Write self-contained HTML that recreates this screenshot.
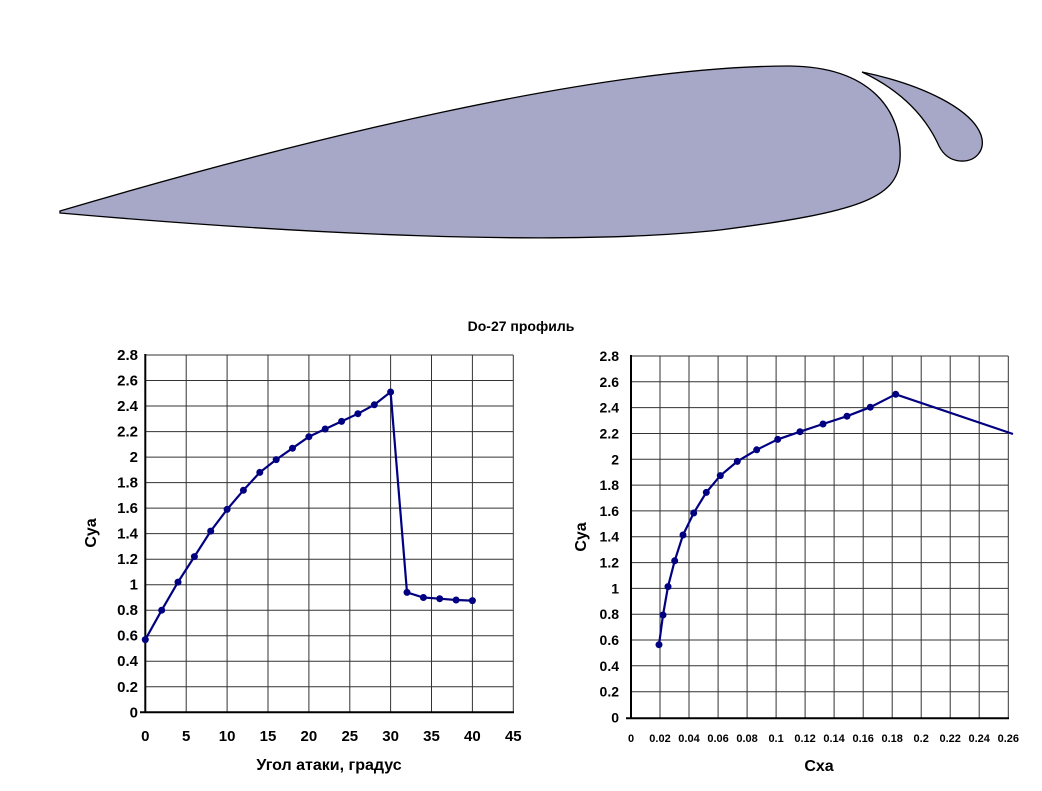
<!DOCTYPE html>
<html><head><meta charset="utf-8"><style>body{margin:0;background:#fff}svg{display:block}text{font-family:"Liberation Sans",Arial,sans-serif;font-weight:bold;fill:#000}</style></head><body>
<svg width="1042" height="791" viewBox="0 0 1042 791" xmlns="http://www.w3.org/2000/svg">
<path d="M60,211 C300,140 600,66 790,66 C870,67 903,110 900,160 C897,198 860,212 720,230 C560,247 300,234 60,213 Z" fill="#a7a7c8" stroke="#000" stroke-width="1.3"/>
<path d="M862,72 C925,85 972,110 981,135 C986,150 976,162 960,161 C948,160 942,152 939,146 C925,115 900,90 862,72 Z" fill="#a7a7c8" stroke="#000" stroke-width="1.3"/>
<text x="521" y="331" font-size="14" text-anchor="middle">Do-27 профиль</text>
<g id="L">
<g stroke="#333" stroke-width="1">
<line x1="145.3" y1="355" x2="513.3" y2="355"/><line x1="145.3" y1="380.5" x2="513.3" y2="380.5"/><line x1="145.3" y1="406" x2="513.3" y2="406"/><line x1="145.3" y1="431.6" x2="513.3" y2="431.6"/><line x1="145.3" y1="457.1" x2="513.3" y2="457.1"/><line x1="145.3" y1="482.6" x2="513.3" y2="482.6"/><line x1="145.3" y1="508.1" x2="513.3" y2="508.1"/><line x1="145.3" y1="533.6" x2="513.3" y2="533.6"/><line x1="145.3" y1="559.2" x2="513.3" y2="559.2"/><line x1="145.3" y1="584.7" x2="513.3" y2="584.7"/><line x1="145.3" y1="610.2" x2="513.3" y2="610.2"/><line x1="145.3" y1="635.7" x2="513.3" y2="635.7"/><line x1="145.3" y1="661.2" x2="513.3" y2="661.2"/><line x1="145.3" y1="686.8" x2="513.3" y2="686.8"/>
<line x1="186.2" y1="355" x2="186.2" y2="712"/><line x1="227.1" y1="355" x2="227.1" y2="712"/><line x1="268" y1="355" x2="268" y2="712"/><line x1="308.9" y1="355" x2="308.9" y2="712"/><line x1="349.8" y1="355" x2="349.8" y2="712"/><line x1="390.6" y1="355" x2="390.6" y2="712"/><line x1="431.5" y1="355" x2="431.5" y2="712"/><line x1="472.4" y1="355" x2="472.4" y2="712"/><line x1="513.3" y1="355" x2="513.3" y2="712"/>
</g>
<g stroke="#000" stroke-width="2"><line x1="145.3" y1="354" x2="145.3" y2="713"/><line x1="140" y1="712.3" x2="514" y2="712.3"/></g>
<g font-size="15" text-anchor="end">
<text x="138" y="360">2.8</text><text x="138" y="385.5">2.6</text><text x="138" y="411">2.4</text><text x="138" y="436.6">2.2</text><text x="138" y="462.1">2</text><text x="138" y="487.6">1.8</text><text x="138" y="513.1">1.6</text><text x="138" y="538.6">1.4</text><text x="138" y="564.2">1.2</text><text x="138" y="589.7">1</text><text x="138" y="615.2">0.8</text><text x="138" y="640.7">0.6</text><text x="138" y="666.2">0.4</text><text x="138" y="691.8">0.2</text><text x="138" y="717.3">0</text></g>
<g font-size="15" text-anchor="middle">
<text x="145.3" y="741">0</text><text x="186.2" y="741">5</text><text x="227.1" y="741">10</text><text x="268" y="741">15</text><text x="308.9" y="741">20</text><text x="349.8" y="741">25</text><text x="390.6" y="741">30</text><text x="431.5" y="741">35</text><text x="472.4" y="741">40</text><text x="513.3" y="741">45</text></g>
<text x="329" y="770" font-size="16" text-anchor="middle">Угол атаки, градус</text>
<text transform="translate(96,533) rotate(-90)" font-size="16" text-anchor="middle">Cya</text>
<polyline fill="none" stroke="#000080" stroke-width="2.2" points="145.3,639.6 161.7,610.2 178,582.1 194.4,556.6 210.7,531.1 227.1,509.4 243.4,490.3 259.8,472.4 276.2,459.6 292.5,448.2 308.9,436.7 325.2,429 341.6,421.4 357.9,413.7 374.3,404.8 390.6,392 407,592.4 423.4,597.5 439.7,598.7 456.1,600 472.4,600.6"/>
<g fill="#000080"><circle cx="145.3" cy="639.6" r="3.5"/><circle cx="161.7" cy="610.2" r="3.5"/><circle cx="178" cy="582.1" r="3.5"/><circle cx="194.4" cy="556.6" r="3.5"/><circle cx="210.7" cy="531.1" r="3.5"/><circle cx="227.1" cy="509.4" r="3.5"/><circle cx="243.4" cy="490.3" r="3.5"/><circle cx="259.8" cy="472.4" r="3.5"/><circle cx="276.2" cy="459.6" r="3.5"/><circle cx="292.5" cy="448.2" r="3.5"/><circle cx="308.9" cy="436.7" r="3.5"/><circle cx="325.2" cy="429" r="3.5"/><circle cx="341.6" cy="421.4" r="3.5"/><circle cx="357.9" cy="413.7" r="3.5"/><circle cx="374.3" cy="404.8" r="3.5"/><circle cx="390.6" cy="392" r="3.5"/><circle cx="407" cy="592.4" r="3.5"/><circle cx="423.4" cy="597.5" r="3.5"/><circle cx="439.7" cy="598.7" r="3.5"/><circle cx="456.1" cy="600" r="3.5"/><circle cx="472.4" cy="600.6" r="3.5"/></g>
</g>
<g id="R">
<g stroke="#333" stroke-width="1">
<line x1="631" y1="356" x2="1008.3" y2="356"/><line x1="631" y1="381.8" x2="1008.3" y2="381.8"/><line x1="631" y1="407.6" x2="1008.3" y2="407.6"/><line x1="631" y1="433.5" x2="1008.3" y2="433.5"/><line x1="631" y1="459.3" x2="1008.3" y2="459.3"/><line x1="631" y1="485.1" x2="1008.3" y2="485.1"/><line x1="631" y1="510.9" x2="1008.3" y2="510.9"/><line x1="631" y1="536.7" x2="1008.3" y2="536.7"/><line x1="631" y1="562.6" x2="1008.3" y2="562.6"/><line x1="631" y1="588.4" x2="1008.3" y2="588.4"/><line x1="631" y1="614.2" x2="1008.3" y2="614.2"/><line x1="631" y1="640" x2="1008.3" y2="640"/><line x1="631" y1="665.8" x2="1008.3" y2="665.8"/><line x1="631" y1="691.7" x2="1008.3" y2="691.7"/>
<line x1="660" y1="356" x2="660" y2="718"/><line x1="689" y1="356" x2="689" y2="718"/><line x1="718.1" y1="356" x2="718.1" y2="718"/><line x1="747.1" y1="356" x2="747.1" y2="718"/><line x1="776.1" y1="356" x2="776.1" y2="718"/><line x1="805.1" y1="356" x2="805.1" y2="718"/><line x1="834.1" y1="356" x2="834.1" y2="718"/><line x1="863.2" y1="356" x2="863.2" y2="718"/><line x1="892.2" y1="356" x2="892.2" y2="718"/><line x1="921.2" y1="356" x2="921.2" y2="718"/><line x1="950.2" y1="356" x2="950.2" y2="718"/><line x1="979.2" y1="356" x2="979.2" y2="718"/><line x1="1008.3" y1="356" x2="1008.3" y2="718"/>
</g>
<g stroke="#000" stroke-width="2"><line x1="631" y1="355" x2="631" y2="719"/><line x1="626" y1="718.3" x2="1009" y2="718.3"/></g>
<g font-size="14" text-anchor="end">
<text x="619" y="361">2.8</text><text x="619" y="386.8">2.6</text><text x="619" y="412.6">2.4</text><text x="619" y="438.5">2.2</text><text x="619" y="464.3">2</text><text x="619" y="490.1">1.8</text><text x="619" y="515.9">1.6</text><text x="619" y="541.7">1.4</text><text x="619" y="567.6">1.2</text><text x="619" y="593.4">1</text><text x="619" y="619.2">0.8</text><text x="619" y="645">0.6</text><text x="619" y="670.8">0.4</text><text x="619" y="696.7">0.2</text><text x="619" y="722.5">0</text></g>
<g font-size="11" text-anchor="middle">
<text x="631" y="742">0</text><text x="660" y="742">0.02</text><text x="689" y="742">0.04</text><text x="718.1" y="742">0.06</text><text x="747.1" y="742">0.08</text><text x="776.1" y="742">0.1</text><text x="805.1" y="742">0.12</text><text x="834.1" y="742">0.14</text><text x="863.2" y="742">0.16</text><text x="892.2" y="742">0.18</text><text x="921.2" y="742">0.2</text><text x="950.2" y="742">0.22</text><text x="979.2" y="742">0.24</text><text x="1008.3" y="742">0.26</text></g>
<text x="819" y="771" font-size="16" text-anchor="middle">Cxa</text>
<text transform="translate(586,537) rotate(-90)" font-size="16" text-anchor="middle">Cya</text>
<polyline fill="none" stroke="#000080" stroke-width="2.2" points="659,644.7 663,615 668,586.6 674.7,560.8 683,535 693.7,513 706.3,492.4 720.3,475.6 737.3,461.4 756.7,449.8 777.7,439.4 800,431.7 823,424 847,416.2 870.3,407.2 895.7,394.3 1013,434"/>
<g fill="#000080"><circle cx="659" cy="644.7" r="3.5"/><circle cx="663" cy="615" r="3.5"/><circle cx="668" cy="586.6" r="3.5"/><circle cx="674.7" cy="560.8" r="3.5"/><circle cx="683" cy="535" r="3.5"/><circle cx="693.7" cy="513" r="3.5"/><circle cx="706.3" cy="492.4" r="3.5"/><circle cx="720.3" cy="475.6" r="3.5"/><circle cx="737.3" cy="461.4" r="3.5"/><circle cx="756.7" cy="449.8" r="3.5"/><circle cx="777.7" cy="439.4" r="3.5"/><circle cx="800" cy="431.7" r="3.5"/><circle cx="823" cy="424" r="3.5"/><circle cx="847" cy="416.2" r="3.5"/><circle cx="870.3" cy="407.2" r="3.5"/><circle cx="895.7" cy="394.3" r="3.5"/></g>
</g>
</svg>
</body></html>
